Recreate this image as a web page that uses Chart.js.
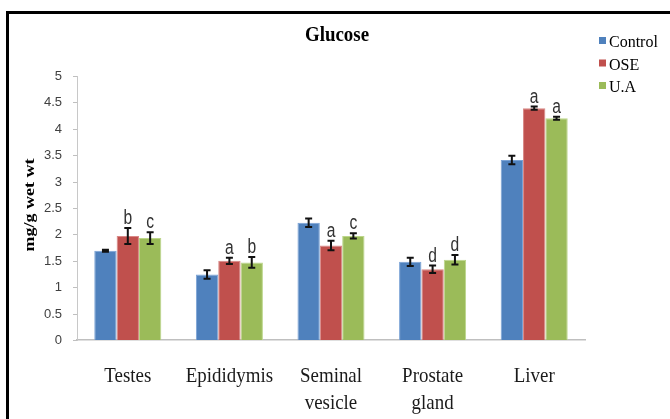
<!DOCTYPE html>
<html>
<head>
<meta charset="utf-8">
<script src="https://cdn.jsdelivr.net/npm/chart.js@4/dist/chart.umd.min.js"></script>
<style>
  html, body { margin: 0; padding: 0; background: #ffffff; }
  #wrap { position: relative; width: 670px; height: 419px; }
</style>
</head>
<body>
<div id="wrap"><canvas id="chart" width="670" height="419"></canvas></div>
<script>
// Glucose content (mg/g wet wt) per tissue and treatment group
const tissues = [['Testes'], ['Epididymis'], ['Seminal', 'vesicle'], ['Prostate', 'gland'], ['Liver']];
const seriesNames = ['Control', 'OSE', 'U.A'];

const controlValues = [1.69, 1.24, 2.22, 1.48, 3.41];
const oseValues     = [1.97, 1.50, 1.79, 1.34, 4.39];
const uaValues      = [1.93, 1.47, 1.97, 1.52, 4.20];

// standard error for each bar
const controlErrors = [0.02, 0.08, 0.08, 0.08, 0.08];
const oseErrors     = [0.15, 0.06, 0.09, 0.07, 0.03];
const uaErrors      = [0.11, 0.10, 0.05, 0.09, 0.03];

// significance letters above each bar
const controlLetters = ['', '', '', '', ''];
const oseLetters     = ['b', 'a', 'a', 'd', 'a'];
const uaLetters      = ['c', 'b', 'c', 'd', 'a'];

const yTicks = [0, 0.5, 1, 1.5, 2, 2.5, 3, 3.5, 4, 4.5, 5];

const fills   = ['#4f81bd', '#c0504d', '#9bbb59'];
const edges   = ['#7aa3d6', '#d98886', '#bcd68a'];
const errors  = [controlErrors, oseErrors, uaErrors];
const letters = [controlLetters, oseLetters, uaLetters];

const SERIF = '"Liberation Serif", "Times New Roman", serif';
const SANS = '"Liberation Sans", Arial, sans-serif';

function squeezedText(ctx, text, x, y, font, sx, align, color) {
  ctx.save();
  ctx.translate(x, y);
  ctx.scale(sx, 1);
  ctx.font = font;
  ctx.fillStyle = color;
  ctx.textAlign = align;
  ctx.textBaseline = 'alphabetic';
  ctx.fillText(text, 0, 0);
  ctx.restore();
}

const decorations = {
  id: 'decorations',
  beforeDraw(chart) {
    const ctx = chart.ctx;
    ctx.save();
    ctx.fillStyle = '#ffffff';
    ctx.fillRect(0, 0, chart.width, chart.height);
    // frame around the figure (left and top edges)
    ctx.fillStyle = '#000000';
    ctx.fillRect(6, 11, 3, chart.height - 11);
    ctx.fillRect(6, 11, chart.width - 6, 3);
    ctx.restore();
  },
  afterDatasetsDraw(chart) {
    const ctx = chart.ctx;
    const y = chart.scales.y;
    const x = chart.scales.x;

    // error bars and letters
    chart.data.datasets.forEach((ds, di) => {
      const meta = chart.getDatasetMeta(di);
      meta.data.forEach((bar, i) => {
        const v = ds.data[i];
        const e = errors[di][i];
        const top = y.getPixelForValue(v + e);
        const bot = y.getPixelForValue(v - e);
        const cx = bar.x;
        ctx.save();
        ctx.strokeStyle = '#111111';
        ctx.lineWidth = 2;
        ctx.beginPath();
        ctx.moveTo(cx, top); ctx.lineTo(cx, bot);
        ctx.moveTo(cx - 3.5, top); ctx.lineTo(cx + 3.5, top);
        ctx.moveTo(cx - 3.5, bot); ctx.lineTo(cx + 3.5, bot);
        ctx.stroke();
        ctx.restore();
        const t = letters[di][i];
        if (t) {
          squeezedText(ctx, t, cx, top - 4, '20px ' + SANS, 0.78, 'center', '#333333');
        }
      });
    });

    // y tick marks and labels
    ctx.save();
    ctx.strokeStyle = '#bfbfbf';
    ctx.lineWidth = 1;
    yTicks.forEach(t => {
      const py = Math.round(y.getPixelForValue(t)) + 0.5;
      ctx.beginPath();
      ctx.moveTo(x.left - 4, py); ctx.lineTo(x.left, py);
      ctx.stroke();
      ctx.font = '13px ' + SANS;
      ctx.fillStyle = '#404040';
      ctx.textAlign = 'right';
      ctx.textBaseline = 'middle';
      ctx.fillText(String(t), 62, py);
    });
    ctx.restore();

    // category labels
    tissues.forEach((lines, i) => {
      const cx = x.getPixelForValue(i);
      lines.forEach((ln, k) => {
        squeezedText(ctx, ln, cx, 382 + k * 27, '22px ' + SERIF, 0.86, 'center', '#1a1a1a');
      });
    });

    // title
    squeezedText(ctx, 'Glucose', 337, 41, 'bold 22px ' + SERIF, 0.86, 'center', '#000000');

    // y axis title
    ctx.save();
    ctx.translate(30, 205);
    ctx.rotate(-Math.PI / 2);
    ctx.scale(1, 0.86);
    ctx.font = 'bold 18px ' + SERIF;
    ctx.fillStyle = '#000000';
    ctx.textAlign = 'center';
    ctx.textBaseline = 'middle';
    ctx.fillText('mg/g wet wt', 0, 0);
    ctx.restore();

    // legend
    seriesNames.forEach((name, i) => {
      const base = 47 + i * 22.5;
      ctx.save();
      ctx.fillStyle = fills[i];
      ctx.fillRect(599, base - 10, 7, 7);
      ctx.font = '16px ' + SERIF;
      ctx.fillStyle = '#000000';
      ctx.textAlign = 'left';
      ctx.textBaseline = 'alphabetic';
      ctx.fillText(name, 609, base);
      ctx.restore();
    });
  }
};

function build() {
  new Chart(document.getElementById('chart'), {
    type: 'bar',
    data: {
      labels: tissues,
      datasets: [
        { label: seriesNames[0], data: controlValues, backgroundColor: fills[0], borderColor: edges[0], borderWidth: 1 },
        { label: seriesNames[1], data: oseValues,     backgroundColor: fills[1], borderColor: edges[1], borderWidth: 1 },
        { label: seriesNames[2], data: uaValues,      backgroundColor: fills[2], borderColor: edges[2], borderWidth: 1 }
      ]
    },
    options: {
      responsive: false,
      animation: false,
      devicePixelRatio: 1,
      layout: { padding: { left: 69, right: 85, top: 76, bottom: 71 } },
      datasets: { bar: { categoryPercentage: 0.66, barPercentage: 1.0 } },
      plugins: {
        legend: { display: false },
        title: { display: false },
        tooltip: { enabled: false }
      },
      scales: {
        x: {
          grid: { display: false },
          border: { display: true, color: '#bfbfbf', width: 1.5 },
          ticks: { display: false }
        },
        y: {
          min: 0,
          max: 5,
          grid: { display: false },
          border: { display: true, color: '#c8c8c8', width: 1 },
          ticks: { display: false, stepSize: 0.5 }
        }
      }
    },
    plugins: [decorations]
  });
}

// make sure the system fonts are ready before the single static render
const fontLoads = [
  '22px "Liberation Serif"', 'bold 22px "Liberation Serif"', '16px "Liberation Serif"',
  'bold 18px "Liberation Serif"', '13px "Liberation Sans"', '20px "Liberation Sans"'
].map(f => document.fonts.load(f).catch(() => null));
Promise.all(fontLoads).then(build, build);
</script>
</body>
</html>
